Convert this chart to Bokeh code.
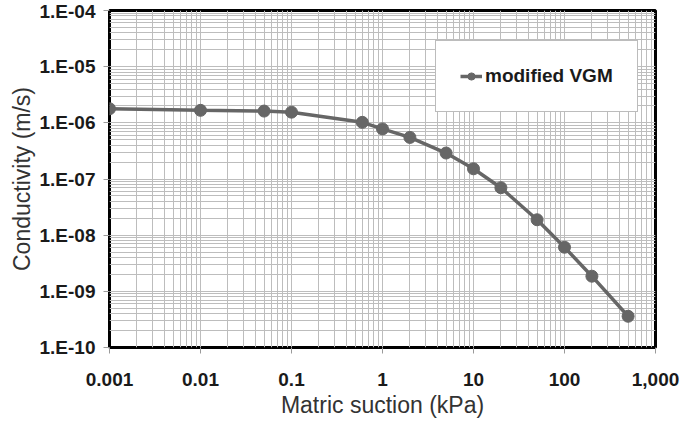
from bokeh.plotting import figure
from bokeh.models import (Range1d, FixedTicker, CustomJSTickFormatter, Legend, LegendItem)
from bokeh.embed import file_html
from bokeh.resources import INLINE

# Hydraulic conductivity function (modified van Genuchten-Mualem)
suction_kpa = [0.001, 0.01, 0.05, 0.1, 0.6, 1, 2, 5, 10, 20, 50, 100, 200, 500]
conductivity_ms = [1.78e-6, 1.67e-6, 1.62e-6, 1.55e-6, 1.02e-6, 7.8e-7, 5.5e-7,
                   2.9e-7, 1.52e-7, 7.0e-8, 1.88e-8, 6.1e-9, 1.86e-9, 3.6e-10]
series_name = "modified VGM"

x_ticks = [0.001, 0.01, 0.1, 1, 10, 100, 1000]
x_tick_labels = ["0.001", "0.01", "0.1", "1", "10", "100", "1,000"]
y_ticks = [1e-10, 1e-9, 1e-8, 1e-7, 1e-6, 1e-5, 1e-4]
y_tick_labels = ["1.E-10", "1.E-09", "1.E-08", "1.E-07", "1.E-06", "1.E-05", "1.E-04"]


def minor_between(majors):
    out = []
    for m in majors[:-1]:
        out.extend(m * k for k in range(2, 10))
    return out


FONT = "Liberation Sans"
GRID = "#bdbdbd"
SERIES = "#666666"

p = figure(width=686, height=424, x_axis_type="log", y_axis_type="log",
           x_range=Range1d(0.001, 1000), y_range=Range1d(1e-10, 1e-4),
           output_backend="svg", toolbar_location=None,
           min_border_left=109, min_border_right=31,
           min_border_top=10, min_border_bottom=77)

p.background_fill_color = "white"
p.border_fill_color = "white"
p.outline_line_color = "black"
p.outline_line_width = 3

pick_label = """
let best = 0;
for (let i = 0; i < vals.length; i++) {
  if (Math.abs(Math.log10(vals[i] / tick)) < Math.abs(Math.log10(vals[best] / tick))) best = i;
}
return labels[best];
"""

p.xaxis.ticker = FixedTicker(ticks=x_ticks, minor_ticks=minor_between(x_ticks))
p.yaxis.ticker = FixedTicker(ticks=y_ticks, minor_ticks=minor_between(y_ticks))
p.xaxis.formatter = CustomJSTickFormatter(args=dict(vals=x_ticks, labels=x_tick_labels), code=pick_label)
p.yaxis.formatter = CustomJSTickFormatter(args=dict(vals=y_ticks, labels=y_tick_labels), code=pick_label)

for ax in (p.xaxis, p.yaxis):
    ax.axis_line_color = None
    ax.major_tick_line_color = "#9a9a9a"
    ax.major_tick_out = 6
    ax.major_tick_in = 0
    ax.minor_tick_line_color = None
    ax.major_label_text_font = FONT
    ax.major_label_text_font_style = "bold"
    ax.major_label_text_font_size = "19px"
    ax.major_label_text_color = "#1a1a1a"
    ax.axis_label_text_font = FONT
    ax.axis_label_text_font_style = "normal"
    ax.axis_label_text_font_size = "23px"
    ax.axis_label_text_color = "#333333"

p.xaxis.axis_label = "Matric suction (kPa)"
p.yaxis.axis_label = "Conductivity (m/s)"
p.xaxis.major_label_standoff = 19
p.xaxis.axis_label_standoff = 3
p.yaxis.major_label_standoff = 8
p.yaxis.axis_label_standoff = 2

for g in (p.xgrid, p.ygrid):
    g.grid_line_color = GRID
    g.grid_line_width = 1
    g.minor_grid_line_color = GRID
    g.minor_grid_line_width = 1

line = p.line(suction_kpa, conductivity_ms, line_color=SERIES, line_width=3.5)
dots = p.scatter(suction_kpa, conductivity_ms, marker="circle", size=12,
                 fill_color=SERIES, line_color=SERIES)

legend = Legend(items=[LegendItem(label=series_name, renderers=[line, dots])],
                location=(326, 235), orientation="vertical",
                padding=24, margin=0, spacing=0,
                glyph_width=22, glyph_height=18, label_standoff=3,
                label_text_font=FONT, label_text_font_style="bold",
                label_text_font_size="19px", label_text_color="#1a1a1a",
                border_line_color="#7a7a7a", border_line_width=1,
                background_fill_color="white", background_fill_alpha=1.0)
p.add_layout(legend, "center")

open("out.html", "w").write(file_html(p, INLINE))
